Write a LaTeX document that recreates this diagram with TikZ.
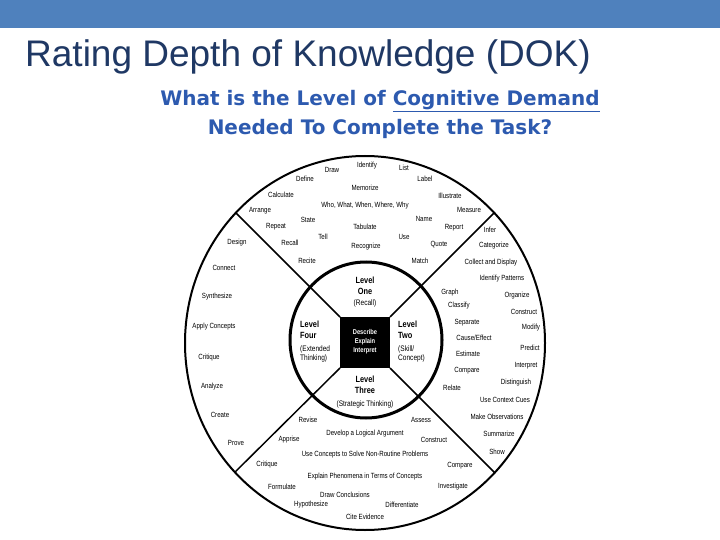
\documentclass[tikz,border=0pt]{standalone}
\usepackage{fontspec}
\setmainfont{Liberation Sans}
\newfontfamily\cond[FakeStretch=0.82]{Liberation Sans}
\newfontfamily\heavy{DejaVu Sans}
\definecolor{bar}{RGB}{79,129,189}
\definecolor{titleblue}{RGB}{31,56,100}
\definecolor{subblue}{RGB}{45,90,175}
\begin{document}
\begin{tikzpicture}[x=1pt,y=-1pt,
  w/.style={font=\cond\fontsize{7.5}{8}\selectfont, inner sep=0pt},
  lv/.style={font=\cond\bfseries\fontsize{9}{10}\selectfont, inner sep=0pt},
  lvl/.style={font=\cond\fontsize{8}{9}\selectfont, inner sep=0pt}]
\useasboundingbox (0,0) rectangle (720,540);
\fill[bar] (0,0) rectangle (720,28);
\node[anchor=base west, inner sep=0pt, text=titleblue, font=\fontsize{37}{40}\selectfont] (title) at (25,67) {Rating Depth of Knowledge (DOK)};
\node[inner sep=0pt, text=subblue, font=\heavy\bfseries\fontsize{20}{22}\selectfont] (sub1) at (380,101) {What is the Level of \underline{Cognitive Demand}};
\node[inner sep=0pt, text=subblue, font=\heavy\bfseries\fontsize{20}{22}\selectfont] (sub2) at (380,129) {Needed To Complete the Task?};
% wheel
\begin{scope}
\clip (365,343) ellipse [x radius=180, y radius=187];
\coordinate (b1) at (340,317); \coordinate (b2) at (390,317);
\coordinate (b3) at (390,368); \coordinate (b4) at (340,368);
\coordinate (o1) at (225,202); \coordinate (o2) at (506,201);
\coordinate (o3) at (506,484); \coordinate (o4) at (224,483);
\draw[line width=1.5pt] (b1)--(o1) (b2)--(o2) (b3)--(o3) (b4)--(o4);
\end{scope}
\draw[line width=2pt] (365,343) ellipse [x radius=180, y radius=187];
\draw[line width=3pt] (366,340) ellipse [x radius=76, y radius=78];
\fill[black] (340,317) rectangle (390,368);
\node[font=\cond\bfseries\fontsize{7}{8}\selectfont, text=white, align=center, inner sep=0pt] (box) at (365,342) {Describe\\[1pt]Explain\\[1pt]Interpret};
% levels
\node[lv, align=center] (l1) at (365,286) {Level\\[1pt]One};
\node[lvl] (l1b) at (365,303) {(Recall)};
\node[lv, align=left, anchor=north west] (l4) at (300,321) {Level\\[1pt]Four};
\node[lvl, align=left, anchor=north west] (l4b) at (300,346) {(Extended\\Thinking)};
\node[lv, align=left, anchor=north west] (l2) at (398,321) {Level\\[1pt]Two};
\node[lvl, align=left, anchor=north west] (l2b) at (398,346) {(Skill/\\Concept)};
\node[lv, align=center] (l3) at (365,385) {Level\\[1pt]Three};
\node[lvl] (l3b) at (365,404) {(Strategic Thinking)};
% top
\foreach \t/\x/\y [count=\i] in {Draw/332/170,Identify/367/166,List/404/168,Define/305/179,Label/425/179,Memorize/365/188,Calculate/281/195,Illustrate/450/196,{Who, What, When, Where, Why}/365/206,Arrange/260/211,Measure/469/210,State/308/220,Name/424/219,Repeat/276/227,Tabulate/365/227,Report/454/228,Tell/323/237,Use/404/237,Recall/290/243,Quote/439/245,Recognize/366/247,Recite/307/261,Match/420/261}
  \node[w] (t\i) at (\x,\y) {\t};
% right
\foreach \t/\x/\y [count=\i] in {Infer/490/230,Categorize/494/246,Collect and Display/491/263,Identify Patterns/502/279,Graph/450/293,Organize/517/296,Classify/459/306,Construct/524/312,Separate/467/323,Modify/531/328,{Cause{/}Effect}/474/338,Predict/530/348,Estimate/468/354,Interpret/526/366,Compare/467/371,Distinguish/516/383,Relate/452/388,Use Context Cues/505/400,Make Observations/497/417,Summarize/499/434,Show/497/452}
  \node[w] (r\i) at (\x,\y) {\t};
% left
\foreach \t/\x/\y [count=\i] in {Design/237/243,Connect/224/268,Synthesize/217/297,Apply Concepts/214/327,Critique/209/358,Analyze/212/387,Create/220/415,Prove/236/443}
  \node[w] (f\i) at (\x,\y) {\t};
% bottom
\foreach \t/\x/\y [count=\i] in {Revise/308/420,Assess/421/420,Develop a Logical Argument/365/434,Apprise/289/440,Construct/434/440,Use Concepts to Solve Non-Routine Problems/365/455,Critique/267/465,Compare/460/466,Explain Phenomena in Terms of Concepts/365/477,Formulate/282/487,Investigate/453/487,Draw Conclusions/345/495,Hypothesize/311/505,Differentiate/402/505,Cite Evidence/365/517}
  \node[w] (d\i) at (\x,\y) {\t};
\end{tikzpicture}
\end{document}
